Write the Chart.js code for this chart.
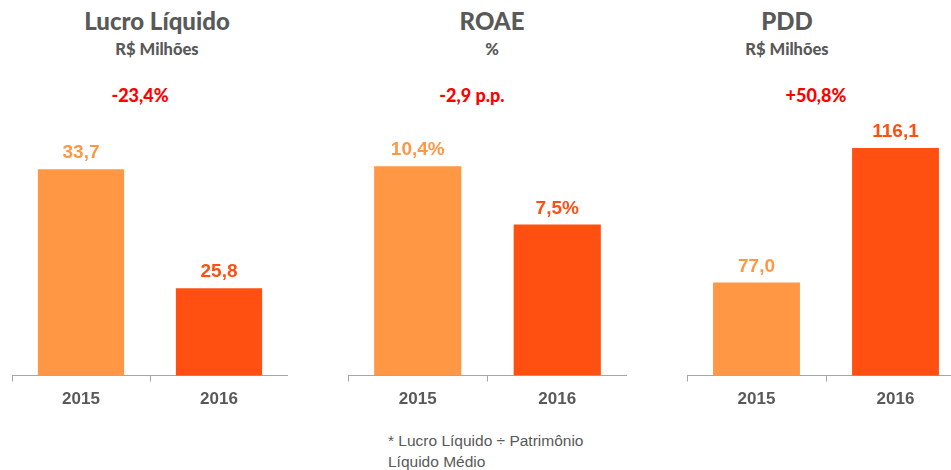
<!DOCTYPE html>
<html lang="pt-BR">
<head>
<meta charset="utf-8">
<title>Lucro Líquido, ROAE e PDD</title>
<script src="https://cdn.jsdelivr.net/npm/chart.js@4/dist/chart.umd.min.js"></script>
<style>
  html, body { margin: 0; padding: 0; background: #fff; }
  body { width: 951px; height: 470px; position: relative; overflow: hidden; }
  .hd { position: absolute; transform: translateX(-50%); white-space: nowrap; font-family: Lato, sans-serif; font-weight: 900; color: #595959; }
  .t { top: 6px; font-size: 24px; }
  .s { top: 39px; font-size: 16.5px; }
  .d { top: 84px; font-size: 18px; color: #ff0000; }
  .box { position: absolute; top: 100px; height: 318px; }
  .note { position: absolute; left: 388px; top: 430px; font-family: "Liberation Sans", Arial, sans-serif; font-size: 15.5px; line-height: 21px; color: #595959; width: 215px; }
</style>
</head>
<body>

<div class="hd t" style="left:157px">Lucro Líquido</div>
<div class="hd s" style="left:157px">R$ Milhões</div>
<div class="hd d" style="left:140px">-23,4%</div>

<div class="hd t" style="left:492px">ROAE</div>
<div class="hd s" style="left:492px">%</div>
<div class="hd d" style="left:472px">-2,9 p.p.</div>

<div class="hd t" style="left:787px">PDD</div>
<div class="hd s" style="left:787px">R$ Milhões</div>
<div class="hd d" style="left:816px">+50,8%</div>

<div class="box" style="left:12px;width:276px"><canvas id="lucro"></canvas></div>
<div class="box" style="left:348px;width:279px"><canvas id="roae"></canvas></div>
<div class="box" style="left:687px;width:278px"><canvas id="pdd"></canvas></div>

<div class="note">* Lucro Líquido ÷ Patrimônio Líquido Médio</div>

<script>
const anos = ['2015', '2016'];
const lucro = [33.7, 25.8];
const roae = [10.4, 7.5];
const pdd = [77.0, 116.1];

const corClara = '#ff9744';
const corEscura = '#ff5011';

// rótulo em cima de cada barra, com vírgula decimal
const valorNaBarra = {
  id: 'valorNaBarra',
  afterDatasetsDraw(chart, args, opts) {
    const ctx = chart.ctx;
    const meta = chart.getDatasetMeta(0);
    ctx.save();
    ctx.font = 'bold 19px "Liberation Sans", Arial, sans-serif';
    ctx.textAlign = 'center';
    ctx.textBaseline = 'alphabetic';
    meta.data.forEach((bar, i) => {
      const v = chart.data.datasets[0].data[i];
      ctx.fillStyle = i == 0 ? corClara : corEscura;
      ctx.fillText(v.toFixed(1).replace('.', ',') + (opts.sufixo || ''), bar.x, bar.y - 11);
    });
    ctx.restore();
  }
};

function grafico(id, valores, min, max, sufixo) {
  return new Chart(document.getElementById(id), {
    type: 'bar',
    data: {
      labels: anos,
      datasets: [{
        data: valores,
        backgroundColor: [corClara, corEscura],
        barPercentage: 0.625,
        categoryPercentage: 1
      }]
    },
    options: {
      responsive: true,
      maintainAspectRatio: false,
      animation: false,
      layout: { padding: { top: 30, left: 0, right: 0, bottom: 0 } },
      plugins: {
        legend: { display: false },
        tooltip: { enabled: false },
        valorNaBarra: { sufixo: sufixo }
      },
      scales: {
        y: { display: false, min: min, max: max },
        x: {
          border: { display: true, color: '#a6a6a6', width: 1 },
          grid: { display: true, drawOnChartArea: false, drawTicks: true, tickLength: 6, color: '#a6a6a6' },
          ticks: {
            padding: 8,
            color: '#595959',
            font: { family: '"Liberation Sans", Arial, sans-serif', size: 17, weight: 'bold' }
          }
        }
      }
    },
    plugins: [valorNaBarra]
  });
}

grafico('lucro', lucro, 20, 36.3, '');
grafico('roae', roae, 0, 12.2, '%');
grafico('pdd', pdd, 50, 121.3, '');
</script>
</body>
</html>
